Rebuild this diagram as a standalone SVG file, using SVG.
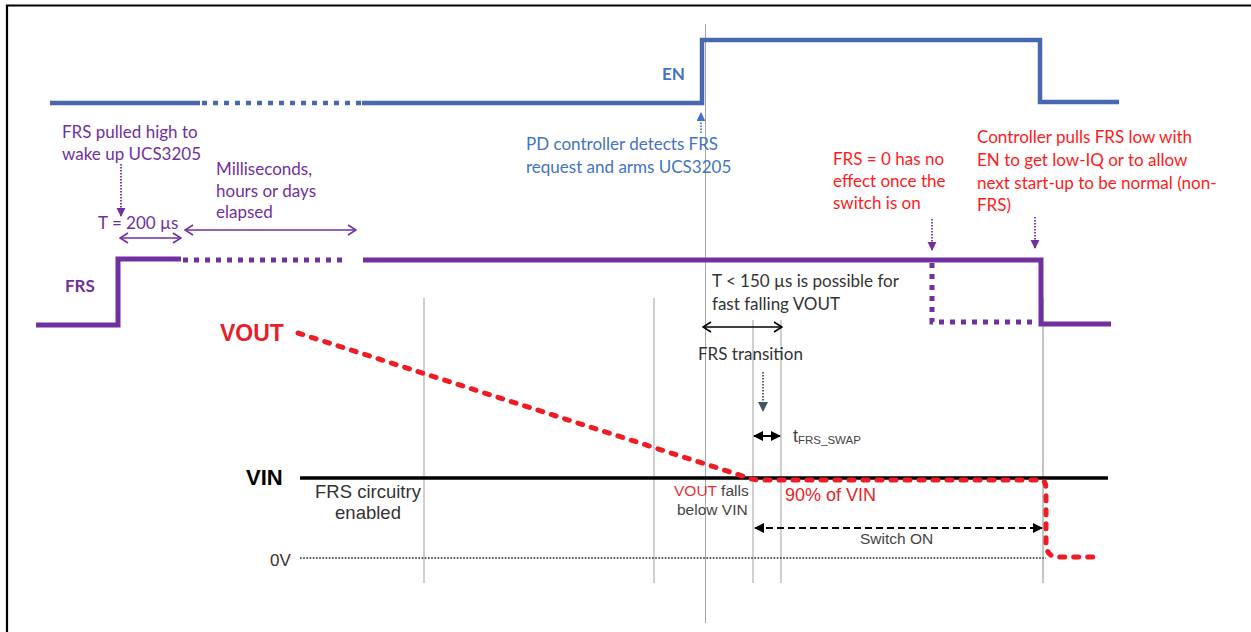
<svg xmlns="http://www.w3.org/2000/svg" width="1251" height="632" viewBox="0 0 1251 632">
<style>
.cal{font-family:Lato,"Open Sans","Liberation Sans",sans-serif;font-size:17px}
.ar{font-family:"Liberation Sans",Arial,sans-serif}
.blue{fill:#4472C4}
.purple{fill:#7030A0}
.red{fill:#FF1A1A}
.dark{fill:#333333}
.gray{fill:#444444}
.en{stroke:#4767B0;stroke-width:4.5;fill:none}
.frs{stroke:#7030A0;stroke-width:5;fill:none}
.dot5{stroke-dasharray:5 6}
.grid{stroke:#cfcfcf;stroke-width:2}
</style>
<defs>
<marker id="chevP" viewBox="0 0 10 12" refX="9" refY="6" markerWidth="10" markerHeight="12" markerUnits="userSpaceOnUse" orient="auto-start-reverse"><path d="M1,1 L9,6 L1,11" fill="none" stroke="#7030A0" stroke-width="1.6"/></marker>
<marker id="chevK" viewBox="0 0 10 12" refX="9" refY="6" markerWidth="10" markerHeight="12" markerUnits="userSpaceOnUse" orient="auto-start-reverse"><path d="M1,1 L9,6 L1,11" fill="none" stroke="#000" stroke-width="1.6"/></marker>
<marker id="triP" viewBox="0 0 10 10" refX="9" refY="5" markerWidth="9" markerHeight="10" markerUnits="userSpaceOnUse" orient="auto"><path d="M0,0 L10,5 L0,10 Z" fill="#7030A0"/></marker>
<marker id="triB" viewBox="0 0 10 10" refX="9" refY="5" markerWidth="9" markerHeight="9" markerUnits="userSpaceOnUse" orient="auto"><path d="M0,0 L10,5 L0,10 Z" fill="#4472C4"/></marker>
<marker id="triS" viewBox="0 0 10 10" refX="9" refY="5" markerWidth="10" markerHeight="10" markerUnits="userSpaceOnUse" orient="auto"><path d="M0,0 L10,5 L0,10 Z" fill="#44546A"/></marker>
<marker id="triK" viewBox="0 0 10 10" refX="9" refY="5" markerWidth="10" markerHeight="10" markerUnits="userSpaceOnUse" orient="auto-start-reverse"><path d="M0,0 L10,5 L0,10 Z" fill="#000"/></marker>
</defs>
<rect width="1251" height="632" fill="#fff"/>
<path d="M7,632 V5.5 H1251" fill="none" stroke="#000" stroke-width="2.2"/>

<g id="grid-lines">
<line class="grid" x1="424" y1="298" x2="424" y2="583"/>
<line class="grid" x1="654" y1="298" x2="654" y2="583"/>
<line class="grid" x1="753" y1="320" x2="753" y2="583"/>
<line class="grid" x1="781" y1="320" x2="781" y2="583"/>
<line x1="1043" y1="298" x2="1043" y2="583" stroke="#b0b0bc" stroke-width="1.5"/>
<line x1="705.5" y1="24" x2="705.5" y2="623" stroke="#a6a6a6" stroke-width="1"/>
</g>

<g id="en-signal">
<line class="en" x1="50" y1="103" x2="200" y2="103"/>
<line class="en dot5" x1="202" y1="103" x2="362" y2="103"/>
<polyline class="en" points="362,103 702,103 702,40 1040,40 1040,102 1119,102"/>
<text x="662" y="80" class="cal blue" font-weight="bold" font-size="15">EN</text>
</g>

<g id="frs-signal">
<polyline class="frs" points="36,325 118,325 118,259 181,259"/>
<line class="frs dot5" x1="183" y1="260" x2="343" y2="260"/>
<polyline class="frs" points="363,260 1041,260 1041,324 1111,324"/>
<polyline class="frs dot5" points="932,263 932,322 1038,322"/>
<text x="65" y="292" class="cal purple" font-weight="bold" font-size="15.5">FRS</text>
</g>

<g id="vin">
<line x1="300" y1="478" x2="1108" y2="478" stroke="#000" stroke-width="3.5"/>
<text x="246" y="485" class="ar" font-weight="bold" font-size="22" fill="#000">VIN</text>
</g>

<g id="zero-v">
<line x1="300" y1="558" x2="1046" y2="558" stroke="#555" stroke-width="2" stroke-dasharray="1.6 1.6"/>
<text x="270" y="566" class="ar" font-size="17" fill="#333">0V</text>
</g>

<g id="vout">
<path d="M298,333 L744,476.5 Q752,480 760,480 L1042,480 Q1046,481 1046,490 L1046,545 Q1047,557 1058,557 L1100,557" fill="none" stroke="#EE1C25" stroke-width="5" stroke-linecap="round" stroke-dasharray="5 9"/>
<text x="220" y="341" class="ar" font-weight="bold" font-size="23" fill="#E4202A">VOUT</text>
</g>

<g id="label-frs-pulled">
<text class="cal purple" x="62" y="138">FRS pulled high to</text>
<text class="cal purple" x="62" y="160">wake up UCS3205</text>
</g>
<g id="label-t200">
<text class="cal purple" x="98" y="229">T = 200 µs</text>
</g>
<g id="label-elapsed">
<text class="cal purple" x="216" y="175">Milliseconds,</text>
<text class="cal purple" x="216" y="197">hours or days</text>
<text class="cal purple" x="216" y="218">elapsed</text>
</g>
<g id="label-pd">
<text class="cal blue" x="526" y="150">PD controller detects FRS</text>
<text class="cal blue" x="526" y="172.5">request and arms UCS3205</text>
</g>
<g id="label-frs0">
<text class="cal red" x="833" y="165">FRS = 0 has no</text>
<text class="cal red" x="833" y="187">effect once the</text>
<text class="cal red" x="833" y="209">switch is on</text>
</g>
<g id="label-controller">
<text class="cal red" x="977" y="143">Controller pulls FRS low with</text>
<text class="cal red" x="977" y="165.5">EN to get low-IQ or to allow</text>
<text class="cal red" x="977" y="188.5">next start-up to be normal (non-</text>
<text class="cal red" x="977" y="211">FRS)</text>
</g>
<g id="label-t150">
<text class="cal dark" x="712" y="287">T &lt; 150 µs is possible for</text>
<text class="cal dark" x="712" y="310">fast falling VOUT</text>
</g>
<g id="label-transition">
<text class="cal dark" x="698" y="360">FRS transition</text>
</g>
<g id="label-tswap">
<text class="ar gray" x="793" y="442" font-size="18">t<tspan font-size="11.5" dy="2">FRS_SWAP</tspan></text>
</g>
<g id="label-circuitry">
<text class="ar" x="368" y="498" font-size="18.5" fill="#333" text-anchor="middle">FRS circuitry</text>
<text class="ar" x="368" y="519" font-size="18.5" fill="#333" text-anchor="middle">enabled</text>
</g>
<g id="label-falls">
<text class="ar" x="674" y="496" font-size="15.5" fill="#444"><tspan fill="#E8303A">VOUT</tspan> falls</text>
<text class="ar" x="677" y="515" font-size="15.5" fill="#444">below VIN</text>
</g>
<g id="label-90">
<text class="ar" x="785" y="501" font-size="18" fill="#E8232A">90% of VIN</text>
</g>
<g id="label-switch">
<text class="ar" x="860" y="544" font-size="15.5" fill="#444">Switch ON</text>
</g>

<g id="connectors">
<line x1="121" y1="164" x2="121" y2="216" stroke="#7030A0" stroke-width="1.8" stroke-dasharray="1.5 1.5" marker-end="url(#triP)"/>
<line x1="120" y1="238" x2="181" y2="238" stroke="#7030A0" stroke-width="1.6" marker-start="url(#chevP)" marker-end="url(#chevP)"/>
<line x1="185" y1="230" x2="356" y2="230" stroke="#7030A0" stroke-width="1.6" marker-start="url(#chevP)" marker-end="url(#chevP)"/>
<line x1="701" y1="133" x2="701" y2="113" stroke="#4472C4" stroke-width="1.8" stroke-dasharray="1.5 1.5" marker-end="url(#triB)"/>
<line x1="932" y1="219" x2="932" y2="250" stroke="#7030A0" stroke-width="1.8" stroke-dasharray="1.5 1.5" marker-end="url(#triP)"/>
<line x1="1035" y1="217" x2="1035" y2="248" stroke="#7030A0" stroke-width="1.8" stroke-dasharray="1.5 1.5" marker-end="url(#triP)"/>
<line x1="703" y1="327" x2="782" y2="327" stroke="#000" stroke-width="1.6" marker-start="url(#chevK)" marker-end="url(#chevK)"/>
<line x1="763" y1="372" x2="763" y2="411" stroke="#44546A" stroke-width="1.8" stroke-dasharray="1.5 1.5" marker-end="url(#triS)"/>
<line x1="754" y1="436" x2="780" y2="436" stroke="#000" stroke-width="2" marker-start="url(#triK)" marker-end="url(#triK)"/>
<line x1="755" y1="528" x2="1042" y2="528" stroke="#000" stroke-width="2" stroke-dasharray="7 4" marker-start="url(#triK)" marker-end="url(#triK)"/>
</g>
</svg>
